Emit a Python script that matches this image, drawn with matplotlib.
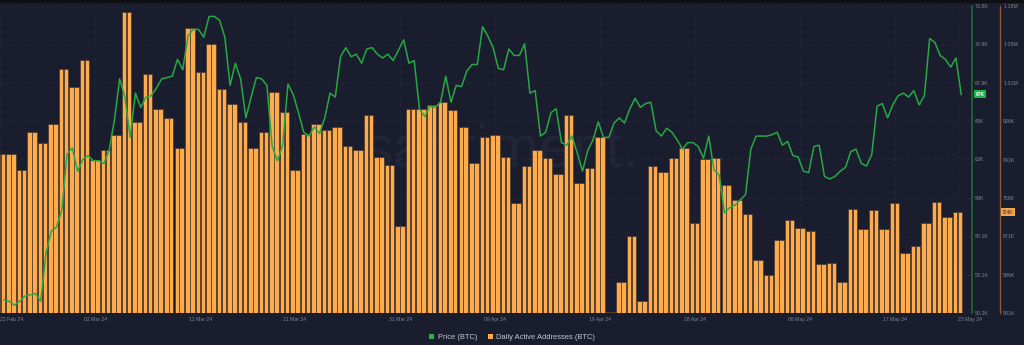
import numpy as np
import pandas as pd
import matplotlib
matplotlib.use("Agg")
import matplotlib.pyplot as plt
import matplotlib.dates as mdates
from matplotlib.patches import Patch, Rectangle

plt.rcParams["font.family"] = ["Liberation Sans", "DejaVu Sans"]

# ---- data -------------------------------------------------------------
days = pd.date_range("2024-02-22", periods=92, freq="D")
active_addresses_k = [
    852, 852, 817, 901, 876, 918, 1040, 1000, 1060, 839,
    861, 895, 1167, 924, 1030, 952, 932, 867, 1131, 1033,
    1095, 996, 963, 924, 867, 901, 989, 945, 817, 897,
    918, 906, 912, 870, 861, 940, 845, 828, 694, 953,
    953, 962, 968, 950, 912, 833, 890, 895, 845, 745,
    827, 861, 843, 808, 939, 788, 822, 890, 504, 569,
    672, 528, 827, 813, 843, 867, 699, 842, 843, 783,
    752, 721, 618, 584, 662, 706, 690, 682, 610, 612,
    570, 732, 686, 728, 686, 744, 633, 650, 699, 746,
    713, 724,
]

price_times = pd.date_range("2024-02-22 08:00", periods=183, freq="12h")
price_k = [
    51.2, 51.1, 50.8, 51.1, 51.5, 51.6, 51.7, 51.1, 54.8, 56.5,
    56.8, 58.1, 62.4, 62.9, 61.1, 62.0, 62.3, 61.9, 61.9, 61.7,
    62.7, 65.0, 68.2, 66.8, 63.7, 67.1, 66.0, 66.8, 66.9, 67.5,
    68.2, 68.3, 68.4, 69.7, 68.9, 71.5, 72.0, 72.0, 71.4, 73.0,
    73.0, 72.7, 71.4, 67.7, 69.4, 68.2, 65.2, 66.8, 68.3, 68.2,
    67.7, 63.0, 61.9, 63.1, 67.8, 67.0, 65.6, 64.1, 63.8, 64.5,
    64.0, 65.2, 67.1, 66.8, 69.9, 70.6, 69.9, 70.1, 69.4, 70.5,
    70.6, 70.1, 69.8, 70.1, 69.6, 70.4, 71.2, 69.4, 69.6, 65.9,
    65.3, 66.1, 66.0, 66.4, 68.4, 66.4, 67.7, 67.6, 68.8, 69.3,
    69.3, 72.2, 71.5, 70.6, 69.0, 68.9, 70.5, 70.0, 70.0, 70.9,
    67.1, 67.3, 63.8, 64.1, 65.6, 65.9, 63.3, 63.1, 63.8, 62.5,
    61.1, 62.7, 63.5, 64.9, 63.7, 63.7, 64.8, 65.2, 64.8, 65.9,
    66.7, 66.0, 66.3, 66.4, 64.2, 63.8, 64.4, 64.1, 63.5, 62.8,
    63.3, 63.3, 63.0, 62.1, 63.8, 61.2, 60.8, 57.9, 58.3, 58.5,
    58.9, 59.3, 62.8, 63.8, 63.8, 63.8, 63.9, 64.1, 63.1, 63.4,
    62.3, 62.2, 61.1, 61.0, 63.0, 63.1, 60.7, 60.5, 60.7, 61.1,
    61.4, 62.6, 62.8, 61.7, 61.5, 62.4, 66.1, 66.3, 65.2, 66.2,
    66.9, 67.1, 66.8, 67.3, 66.2, 66.9, 71.3, 71.0, 70.0, 69.7,
    69.1, 69.8, 67.0,
]

price_ticks = np.linspace(50.2, 73.8, 9)
price_tick_labels = ["50.2K", "53.1K", "56.1K", "59K", "62K", "65K", "67.9K", "70.9K", "73.8K"]
address_ticks = np.linspace(501, 1180, 9)
address_tick_labels = ["501K", "586K", "671K", "756K", "841K", "926K", "1.01M", "1.09M", "1.18M"]

date_ticks = pd.to_datetime([
    "2024-02-22", "2024-03-02", "2024-03-12", "2024-03-21", "2024-03-31", "2024-04-09",
    "2024-04-19", "2024-04-28", "2024-05-08", "2024-05-17", "2024-05-23",
])
date_tick_labels = ["22 Feb 24", "02 Mar 24", "12 Mar 24", "21 Mar 24", "31 Mar 24", "09 Apr 24",
                    "19 Apr 24", "28 Apr 24", "08 May 24", "17 May 24", "23 May 24"]

# ---- style ------------------------------------------------------------
BG = "#1a1d2e"
BAR = "#ffab4c"
BAR_EDGE = "#3d3430"
LINE = "#27a843"
TICK_TXT = "#7f8494"
GRID = "#262a3c"

W, H = 1024, 345
fig = plt.figure(figsize=(W / 100, H / 100), dpi=100)
fig.patch.set_facecolor(BG)
fig.add_artist(Rectangle((0, 1 - 3 / H), 1, 3 / H, transform=fig.transFigure,
                         facecolor="#0e0f13", edgecolor="none"))

ax_w = 972 / W
ax = fig.add_axes([0, 32 / H, ax_w, 307 / H])
ax.set_facecolor(BG)

# daily active addresses: each day drawn as two half-day bars
xd = mdates.date2num(days)
for shift in (-0.235, 0.235):
    ax.bar(xd + shift, active_addresses_k, width=0.43, color=BAR,
           edgecolor=BAR_EDGE, linewidth=0.45, zorder=2)

ax.set_ylim(address_ticks[0], address_ticks[-1])
ax.set_yticks(address_ticks)
ax.set_yticklabels(address_tick_labels)

xt = mdates.date2num(date_ticks)
ax.set_xticks(xt)
ax.set_xticklabels(date_tick_labels)
ax.tick_params(axis="x", length=0, pad=2.6, labelsize=3.7, labelcolor=TICK_TXT)
labels = ax.get_xticklabels()
labels[0].set_ha("left")
labels[-1].set_ha("left")
ax.set_xlim(xd[0] - 0.04, xd[0] + 92.36)

ax.grid(True, color=GRID, linewidth=0.6, linestyle=(0, (4, 4)), zorder=0)
ax.set_axisbelow(True)

# faint watermark behind the bars
ax.text(501 / 972, (313 - 167) / 307, "santiment.", transform=ax.transAxes,
        fontsize=43, color="#212537", ha="center", va="baseline", zorder=0.5)

# price line on its own scale
ax2 = ax.twinx()
ax2.plot(mdates.date2num(price_times), price_k, color=LINE, linewidth=1.1, zorder=3)
ax2.set_ylim(price_ticks[0], price_ticks[-1])
ax2.set_yticks(price_ticks)
ax2.set_yticklabels(price_tick_labels)
for s in ("left", "top", "bottom"):
    ax2.spines[s].set_visible(False)
ax2.spines["right"].set_color("#1d6b36")
ax2.spines["right"].set_linewidth(1.2)
ax2.tick_params(axis="y", length=0, pad=2.2, labelsize=3.8, labelcolor=TICK_TXT)

# address scale sits on a second spine further right (set after twinx,
# which moves the host axis ticks to the left)
ax.yaxis.tick_right()
ax.spines["right"].set_position(("axes", 1000 / 972))
ax.spines["right"].set_visible(True)
ax.spines["right"].set_color("#8a5a2c")
ax.spines["right"].set_linewidth(1.0)
for s in ("left", "top", "bottom"):
    ax.spines[s].set_visible(False)
ax.tick_params(axis="y", which="both", left=False, right=True, labelleft=False,
               labelright=True, length=0, pad=2.2, labelsize=3.8, labelcolor=TICK_TXT)

# last-value tags on both axes
ax2.annotate(f"{price_k[-1]:.0f}K", xy=(1, price_k[-1]), xycoords=("axes fraction", "data"),
             xytext=(2.4, 0), textcoords="offset points", ha="left", va="center",
             fontsize=3.5, color="white", fontweight="bold",
             bbox=dict(boxstyle="square,pad=0.3", fc="#22b14c", ec="none"))
ax.annotate(f"{active_addresses_k[-1]}K", xy=(1000 / 972, active_addresses_k[-1]),
            xycoords=("axes fraction", "data"),
            xytext=(1.6, 0), textcoords="offset points", ha="left", va="center",
            fontsize=3.5, color="#2a2018",
            bbox=dict(boxstyle="square,pad=0.35", fc="#f2a44c", ec="none"))

fig.legend(handles=[Patch(facecolor="#27b34a", label="Price (BTC)"),
                    Patch(facecolor="#ffab4c", label="Daily Active Addresses (BTC)")],
           loc="center", bbox_to_anchor=(512 / W, 7.5 / H), ncol=2, frameon=False,
           fontsize=5.4, labelcolor="#c5c9d3", handlelength=0.7, handleheight=0.7,
           handletextpad=0.45, columnspacing=1.4, borderpad=0)

fig.savefig("out.png", dpi=100, facecolor=fig.get_facecolor())
